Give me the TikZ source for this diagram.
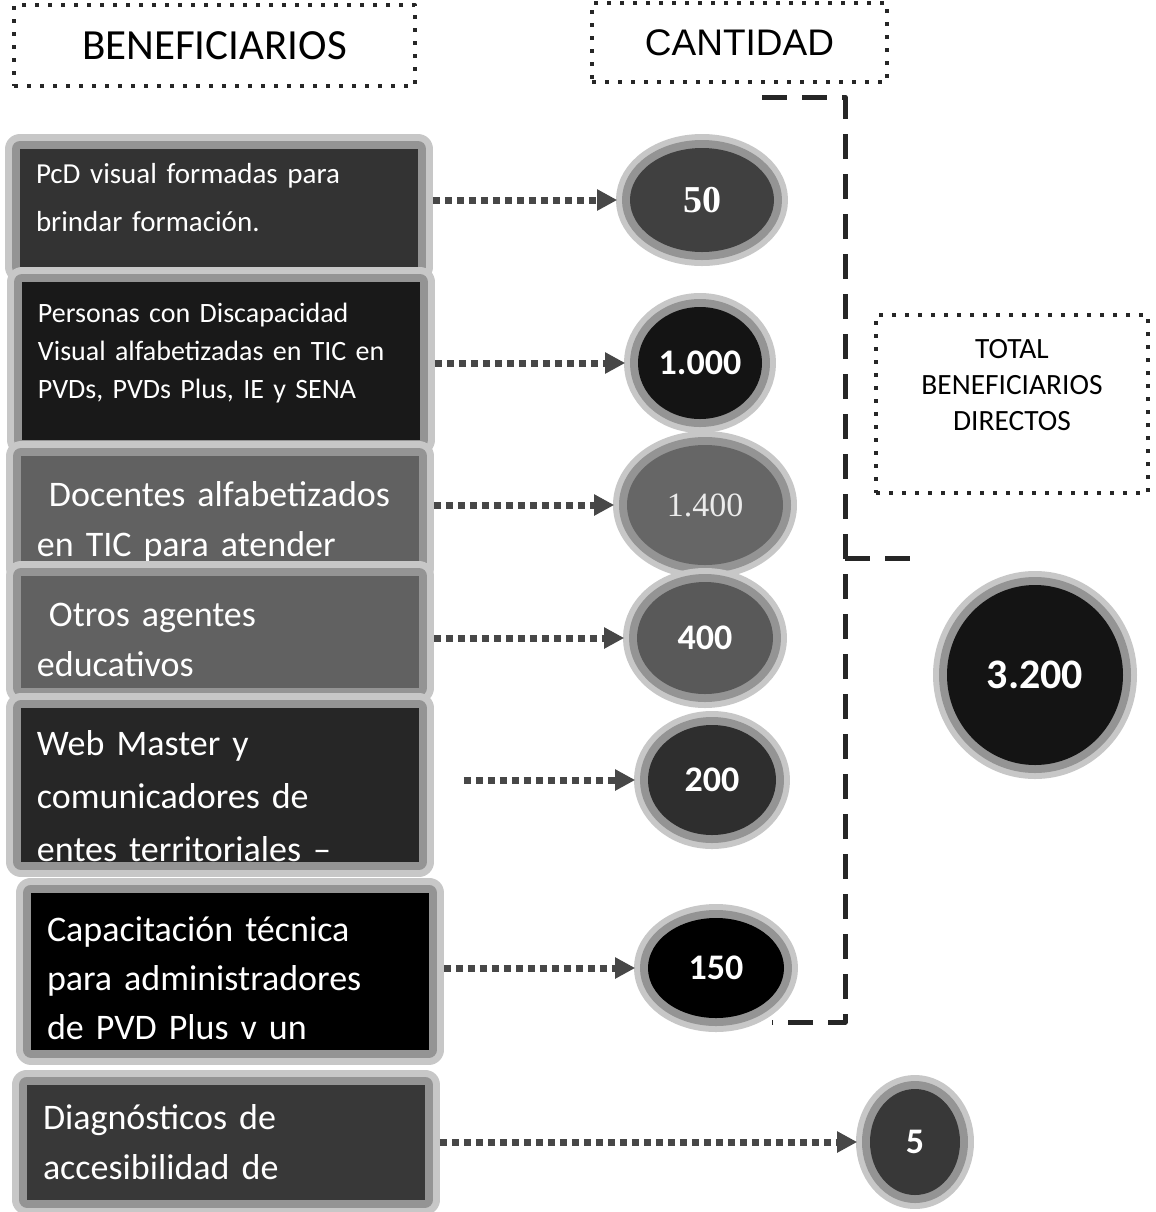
\documentclass[tikz,border=0pt]{standalone}
\usepackage{fontspec}
\setmainfont{Carlito}
\newfontfamily\arialf{Liberation Sans}
\newfontfamily\serifn{Liberation Serif}
\usetikzlibrary{arrows.meta,shapes.geometric}
\begin{document}
\begin{tikzpicture}[x=0.5pt,y=-0.5pt,thick,line join=round,
  marco/.style={draw=black!85,line width=2pt,dash pattern=on 2pt off 4.5pt,inner sep=0pt},
  caja/.style={fill=#1,text=white,minimum width=199pt,inner xsep=8pt,inner ysep=0pt,
    text width=183pt,align=left,
    preaction={draw=black!22,line width=15pt},preaction={draw=black!42,line width=8pt}},
  subir/.style={execute at end node={\endgraf\vspace{#1}}},
  bajar/.style={execute at begin node={\rule{0pt}{\dimexpr 13.5pt+#1\relax}}},
  bola/.style={ellipse,fill=#1,text=white,inner sep=0pt,
    font=\bfseries\fontsize{18pt}{20pt}\selectfont,
    preaction={draw=black!22,line width=14pt},preaction={draw=black!42,line width=8pt}},
  flecha/.style={draw=black!72,line width=3.5pt,dash pattern=on 3.5pt off 2.5pt,
    -{Triangle[length=10pt,width=10pt]},shorten <=7pt,shorten >=6pt},
  llave/.style={draw=black!85,line width=2.5pt,dash pattern=on 12.5pt off 7.5pt}]
  \fill[white] (0,0) rectangle (1156,1212);
  \useasboundingbox (0,0) rectangle (1156,1212);
  \node[marco,minimum width=200.5pt,minimum height=40.5pt,
    font=\fontsize{21.5pt}{25pt}\selectfont] (tB) at (214.5,45.5) {BENEFICIARIOS};
  \node[marco,minimum width=147.5pt,minimum height=39.5pt,
    font=\arialf\fontsize{18.5pt}{22pt}\selectfont] (tC) at (739.5,42.5) {CANTIDAD};
  \node[marco,minimum width=136pt,minimum height=89pt] (tT) at (1012,404) {};
  \node[align=center,font=\fontsize{14.7pt}{18pt}\selectfont] (tTx) at (1012,385)
    {TOTAL\\BENEFICIARIOS\\DIRECTOS};
  \node[caja=black!80,subir=10pt,minimum height=59pt,font=\fontsize{14.5pt}{24pt}\selectfont]
    (b1) at (219,208) {PcD visual formadas para\\brindar formación.};
  \node[caja=black!90,subir=8pt,minimum height=79pt,font=\fontsize{14pt}{19pt}\selectfont]
    (b2) at (221,361) {Personas con Discapacidad\\Visual alfabetizadas en TIC en\\PVDs, PVDs Plus, IE y SENA};
  \node[caja=black!62,bajar=9pt,minimum height=56pt,font=\fontsize{18pt}{25pt}\selectfont]
    (b3) at (220,512) {\ Docentes alfabetizados\\en TIC para atender};
  \node[caja=black!62,bajar=6pt,minimum height=56pt,font=\fontsize{18pt}{25pt}\selectfont]
    (b4) at (220,632) {\ Otros agentes\\educativos};
  \node[caja=black!85,bajar=10pt,minimum height=73pt,font=\fontsize{18pt}{26.5pt}\selectfont]
    (b5) at (220,785) {Web Master y\\comunicadores de\\entes territoriales –};
  \node[caja=black,bajar=6pt,minimum height=78.5pt,font=\fontsize{18pt}{24.5pt}\selectfont]
    (b6) at (230,971) {Capacitación técnica\\para administradores\\de PVD Plus v un};
  \node[caja=black!78,minimum height=57.5pt,font=\fontsize{18pt}{25pt}\selectfont]
    (b7) at (226,1142) {Diagnósticos de\\accesibilidad de};
  \node[bola=black!75,minimum width=72pt,minimum height=52pt,
    font=\serifn\bfseries\fontsize{19pt}{20pt}\selectfont] (e1) at (702,200) {50};
  \node[bola=black!92,minimum width=62pt,minimum height=56pt] (e2) at (700,363) {1.000};
  \node[bola=black!60,minimum width=78pt,minimum height=60pt,text=black!8,
    font=\serifn\fontsize{17pt}{20pt}\selectfont] (e3) at (705,505) {1.400};
  \node[bola=black!65,minimum width=68pt,minimum height=56pt] (e4) at (705,638) {400};
  \node[bola=black!82,minimum width=64pt,minimum height=55pt] (e5) at (712,780) {200};
  \node[bola=black,minimum width=68pt,minimum height=50pt] (e6) at (716,968) {150};
  \node[bola=black!78,minimum width=45pt,minimum height=53pt] (e7) at (915,1142) {5};
  \node[bola=black!92,minimum width=88pt,minimum height=90pt,
    font=\bfseries\fontsize{21pt}{24pt}\selectfont] (e8) at (1035,675) {3.200};
  \draw[flecha] (b1.east |- e1) -- (e1.west);
  \draw[flecha] (b2.east |- e2) -- (e2.west);
  \draw[flecha] (b3.east |- e3) -- (e3.west);
  \draw[flecha] (b4.east |- e4) -- (e4.west);
  \draw[flecha,shorten <=22pt] (b5.east |- e5) -- (e5.west);
  \draw[flecha] (b6.east |- e6) -- (e6.west);
  \draw[flecha] (b7.east |- e7) -- (e7.west);
  \coordinate (k1) at (762,97);
  \coordinate (k2) at (845,97);
  \coordinate (k3) at (845,1022);
  \coordinate (k4) at (772,1022);
  \coordinate (k5) at (918,558);
  \draw[llave] (k1) -- (k2) -- (k3) -- (k4);
  \draw[llave] (k2 |- k5) -- (k5);
\end{tikzpicture}
\end{document}
